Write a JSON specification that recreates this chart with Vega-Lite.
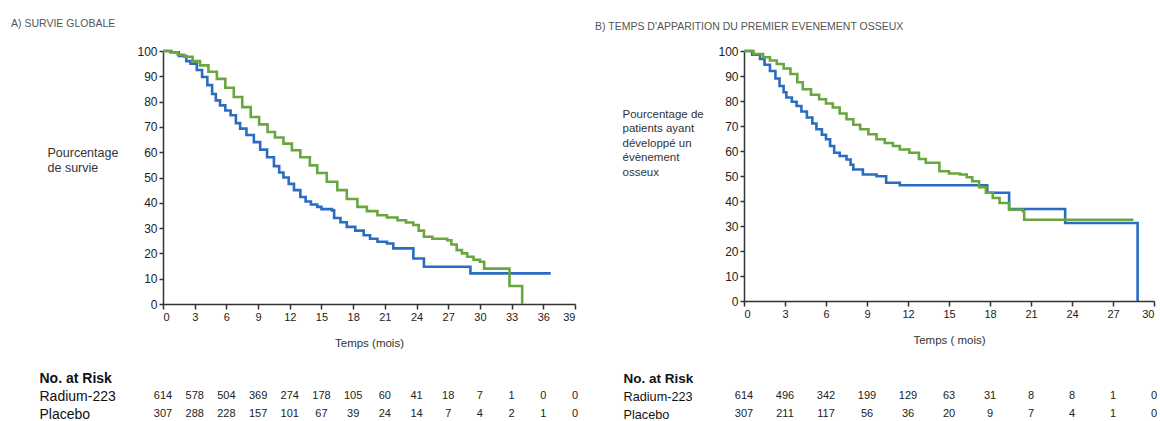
{
  "$schema": "https://vega.github.io/schema/vega-lite/v6.json",
  "autosize": {"type": "none"},
  "padding": {"left": 163, "top": 51, "right": 1000, "bottom": 380},
  "background": "white",
  "config": {
    "view": {"stroke": null},
    "font": "Liberation Sans",
    "axis": {"grid": false, "domainColor": "#333", "tickColor": "#333", "labelColor": "#222", "titleColor": "#333", "labelFont": "Liberation Sans", "titleFont": "Liberation Sans", "titleFontWeight": "normal"}
  },
  "datasets": {
    "kmA": [
      {"arm": "Placebo", "t": 0, "s": 100}, {"arm": "Placebo", "t": 0.7, "s": 99.5}, {"arm": "Placebo", "t": 1.5, "s": 98}, {"arm": "Placebo", "t": 2.2, "s": 96}, {"arm": "Placebo", "t": 2.6, "s": 95}, {"arm": "Placebo", "t": 3.2, "s": 92.5}, {"arm": "Placebo", "t": 3.7, "s": 89.7}, {"arm": "Placebo", "t": 4.2, "s": 86.5}, {"arm": "Placebo", "t": 4.65, "s": 83}, {"arm": "Placebo", "t": 5.0, "s": 80.5}, {"arm": "Placebo", "t": 5.4, "s": 78.5}, {"arm": "Placebo", "t": 5.9, "s": 76.5}, {"arm": "Placebo", "t": 6.4, "s": 74.6}, {"arm": "Placebo", "t": 6.9, "s": 71.5}, {"arm": "Placebo", "t": 7.3, "s": 69.3}, {"arm": "Placebo", "t": 7.9, "s": 66.8}, {"arm": "Placebo", "t": 8.6, "s": 64}, {"arm": "Placebo", "t": 9.2, "s": 61}, {"arm": "Placebo", "t": 9.85, "s": 58}, {"arm": "Placebo", "t": 10.5, "s": 54.5}, {"arm": "Placebo", "t": 11.0, "s": 52}, {"arm": "Placebo", "t": 11.4, "s": 50}, {"arm": "Placebo", "t": 11.9, "s": 47.5}, {"arm": "Placebo", "t": 12.4, "s": 45}, {"arm": "Placebo", "t": 13.0, "s": 42.3}, {"arm": "Placebo", "t": 13.5, "s": 40.5}, {"arm": "Placebo", "t": 14.0, "s": 39.3}, {"arm": "Placebo", "t": 14.6, "s": 38.4}, {"arm": "Placebo", "t": 15.0, "s": 37.5}, {"arm": "Placebo", "t": 16.0, "s": 37}, {"arm": "Placebo", "t": 16.2, "s": 34}, {"arm": "Placebo", "t": 16.8, "s": 32.3}, {"arm": "Placebo", "t": 17.4, "s": 30.5}, {"arm": "Placebo", "t": 18.2, "s": 29}, {"arm": "Placebo", "t": 19.0, "s": 27.2}, {"arm": "Placebo", "t": 19.6, "s": 25.8}, {"arm": "Placebo", "t": 20.3, "s": 24.6}, {"arm": "Placebo", "t": 21.2, "s": 23.9}, {"arm": "Placebo", "t": 21.8, "s": 22}, {"arm": "Placebo", "t": 23.7, "s": 18}, {"arm": "Placebo", "t": 24.7, "s": 14.7}, {"arm": "Placebo", "t": 29.1, "s": 12.1}, {"arm": "Placebo", "t": 36.7, "s": 12.1},
      {"arm": "Radium-223", "t": 0, "s": 100}, {"arm": "Radium-223", "t": 0.8, "s": 99.5}, {"arm": "Radium-223", "t": 1.4, "s": 98.5}, {"arm": "Radium-223", "t": 2.0, "s": 97.7}, {"arm": "Radium-223", "t": 2.8, "s": 96}, {"arm": "Radium-223", "t": 3.5, "s": 94.3}, {"arm": "Radium-223", "t": 4.3, "s": 91.8}, {"arm": "Radium-223", "t": 5.1, "s": 89}, {"arm": "Radium-223", "t": 5.9, "s": 85.5}, {"arm": "Radium-223", "t": 6.7, "s": 81.8}, {"arm": "Radium-223", "t": 7.5, "s": 77.8}, {"arm": "Radium-223", "t": 8.3, "s": 73.9}, {"arm": "Radium-223", "t": 9.1, "s": 71}, {"arm": "Radium-223", "t": 9.9, "s": 68}, {"arm": "Radium-223", "t": 10.6, "s": 65.8}, {"arm": "Radium-223", "t": 11.4, "s": 63.4}, {"arm": "Radium-223", "t": 12.2, "s": 60.8}, {"arm": "Radium-223", "t": 13.0, "s": 58}, {"arm": "Radium-223", "t": 13.9, "s": 54.8}, {"arm": "Radium-223", "t": 14.6, "s": 51.8}, {"arm": "Radium-223", "t": 15.5, "s": 48.3}, {"arm": "Radium-223", "t": 16.5, "s": 45}, {"arm": "Radium-223", "t": 17.4, "s": 41.5}, {"arm": "Radium-223", "t": 18.4, "s": 38.4}, {"arm": "Radium-223", "t": 19.3, "s": 36.7}, {"arm": "Radium-223", "t": 20.3, "s": 35.1}, {"arm": "Radium-223", "t": 21.2, "s": 34.2}, {"arm": "Radium-223", "t": 22.2, "s": 33.1}, {"arm": "Radium-223", "t": 23.0, "s": 32.2}, {"arm": "Radium-223", "t": 23.7, "s": 31.2}, {"arm": "Radium-223", "t": 24.2, "s": 29}, {"arm": "Radium-223", "t": 24.7, "s": 26.6}, {"arm": "Radium-223", "t": 25.5, "s": 25.8}, {"arm": "Radium-223", "t": 26.9, "s": 25.2}, {"arm": "Radium-223", "t": 27.3, "s": 23.5}, {"arm": "Radium-223", "t": 27.8, "s": 21.3}, {"arm": "Radium-223", "t": 28.3, "s": 20}, {"arm": "Radium-223", "t": 28.8, "s": 18.7}, {"arm": "Radium-223", "t": 29.4, "s": 17.5}, {"arm": "Radium-223", "t": 30.0, "s": 16.7}, {"arm": "Radium-223", "t": 30.4, "s": 14}, {"arm": "Radium-223", "t": 32.8, "s": 7.1}, {"arm": "Radium-223", "t": 34.0, "s": 0}
    ],
    "kmB": [
      {"arm": "Placebo", "t": 0, "s": 100}, {"arm": "Placebo", "t": 0.6, "s": 98.5}, {"arm": "Placebo", "t": 1.17, "s": 96.8}, {"arm": "Placebo", "t": 1.5, "s": 94.5}, {"arm": "Placebo", "t": 1.9, "s": 92}, {"arm": "Placebo", "t": 2.3, "s": 89}, {"arm": "Placebo", "t": 2.6, "s": 86}, {"arm": "Placebo", "t": 2.9, "s": 83.5}, {"arm": "Placebo", "t": 3.1, "s": 81.4}, {"arm": "Placebo", "t": 3.5, "s": 79.7}, {"arm": "Placebo", "t": 3.85, "s": 78}, {"arm": "Placebo", "t": 4.2, "s": 75.8}, {"arm": "Placebo", "t": 4.6, "s": 73.4}, {"arm": "Placebo", "t": 5.0, "s": 71}, {"arm": "Placebo", "t": 5.3, "s": 68.7}, {"arm": "Placebo", "t": 5.7, "s": 66.5}, {"arm": "Placebo", "t": 6.0, "s": 64.7}, {"arm": "Placebo", "t": 6.3, "s": 62}, {"arm": "Placebo", "t": 6.6, "s": 59.3}, {"arm": "Placebo", "t": 7.0, "s": 58}, {"arm": "Placebo", "t": 7.5, "s": 56.6}, {"arm": "Placebo", "t": 7.8, "s": 54.5}, {"arm": "Placebo", "t": 8.0, "s": 52.6}, {"arm": "Placebo", "t": 8.7, "s": 50.6}, {"arm": "Placebo", "t": 9.7, "s": 49.9}, {"arm": "Placebo", "t": 10.4, "s": 47.3}, {"arm": "Placebo", "t": 11.4, "s": 46.3}, {"arm": "Placebo", "t": 17.8, "s": 43.3}, {"arm": "Placebo", "t": 19.4, "s": 36.8}, {"arm": "Placebo", "t": 23.5, "s": 31.2}, {"arm": "Placebo", "t": 28.8, "s": 0},
      {"arm": "Radium-223", "t": 0, "s": 100}, {"arm": "Radium-223", "t": 0.7, "s": 98.8}, {"arm": "Radium-223", "t": 1.4, "s": 97.5}, {"arm": "Radium-223", "t": 1.9, "s": 96.2}, {"arm": "Radium-223", "t": 2.4, "s": 94.8}, {"arm": "Radium-223", "t": 2.9, "s": 93}, {"arm": "Radium-223", "t": 3.4, "s": 90.8}, {"arm": "Radium-223", "t": 3.9, "s": 87.5}, {"arm": "Radium-223", "t": 4.3, "s": 84.7}, {"arm": "Radium-223", "t": 4.9, "s": 82.5}, {"arm": "Radium-223", "t": 5.5, "s": 80.7}, {"arm": "Radium-223", "t": 6.0, "s": 79}, {"arm": "Radium-223", "t": 6.5, "s": 77.4}, {"arm": "Radium-223", "t": 7.0, "s": 75}, {"arm": "Radium-223", "t": 7.5, "s": 72.7}, {"arm": "Radium-223", "t": 8.0, "s": 70.5}, {"arm": "Radium-223", "t": 8.5, "s": 68.7}, {"arm": "Radium-223", "t": 9.1, "s": 66.7}, {"arm": "Radium-223", "t": 9.7, "s": 64.7}, {"arm": "Radium-223", "t": 10.3, "s": 63.2}, {"arm": "Radium-223", "t": 10.9, "s": 62}, {"arm": "Radium-223", "t": 11.4, "s": 60.6}, {"arm": "Radium-223", "t": 12.1, "s": 59.3}, {"arm": "Radium-223", "t": 12.8, "s": 56.8}, {"arm": "Radium-223", "t": 13.3, "s": 55.3}, {"arm": "Radium-223", "t": 14.3, "s": 51.9}, {"arm": "Radium-223", "t": 15.0, "s": 51}, {"arm": "Radium-223", "t": 15.8, "s": 50.6}, {"arm": "Radium-223", "t": 16.3, "s": 49.5}, {"arm": "Radium-223", "t": 16.7, "s": 47.9}, {"arm": "Radium-223", "t": 17.2, "s": 45.5}, {"arm": "Radium-223", "t": 17.7, "s": 43.3}, {"arm": "Radium-223", "t": 18.2, "s": 41.2}, {"arm": "Radium-223", "t": 18.7, "s": 39.2}, {"arm": "Radium-223", "t": 19.4, "s": 36.5}, {"arm": "Radium-223", "t": 20.4, "s": 35.9}, {"arm": "Radium-223", "t": 20.5, "s": 32.5}, {"arm": "Radium-223", "t": 28.5, "s": 32.5}
    ],
    "riskA": [
      {"row": "Radium-223", "t": 0, "n": 614}, {"row": "Radium-223", "t": 3, "n": 578}, {"row": "Radium-223", "t": 6, "n": 504}, {"row": "Radium-223", "t": 9, "n": 369}, {"row": "Radium-223", "t": 12, "n": 274}, {"row": "Radium-223", "t": 15, "n": 178}, {"row": "Radium-223", "t": 18, "n": 105}, {"row": "Radium-223", "t": 21, "n": 60}, {"row": "Radium-223", "t": 24, "n": 41}, {"row": "Radium-223", "t": 27, "n": 18}, {"row": "Radium-223", "t": 30, "n": 7}, {"row": "Radium-223", "t": 33, "n": 1}, {"row": "Radium-223", "t": 36, "n": 0}, {"row": "Radium-223", "t": 39, "n": 0},
      {"row": "Placebo", "t": 0, "n": 307}, {"row": "Placebo", "t": 3, "n": 288}, {"row": "Placebo", "t": 6, "n": 228}, {"row": "Placebo", "t": 9, "n": 157}, {"row": "Placebo", "t": 12, "n": 101}, {"row": "Placebo", "t": 15, "n": 67}, {"row": "Placebo", "t": 18, "n": 39}, {"row": "Placebo", "t": 21, "n": 24}, {"row": "Placebo", "t": 24, "n": 14}, {"row": "Placebo", "t": 27, "n": 7}, {"row": "Placebo", "t": 30, "n": 4}, {"row": "Placebo", "t": 33, "n": 2}, {"row": "Placebo", "t": 36, "n": 1}, {"row": "Placebo", "t": 39, "n": 0}
    ],
    "riskB": [
      {"row": "Radium-223", "t": 0, "n": 614}, {"row": "Radium-223", "t": 3, "n": 496}, {"row": "Radium-223", "t": 6, "n": 342}, {"row": "Radium-223", "t": 9, "n": 199}, {"row": "Radium-223", "t": 12, "n": 129}, {"row": "Radium-223", "t": 15, "n": 63}, {"row": "Radium-223", "t": 18, "n": 31}, {"row": "Radium-223", "t": 21, "n": 8}, {"row": "Radium-223", "t": 24, "n": 8}, {"row": "Radium-223", "t": 27, "n": 1}, {"row": "Radium-223", "t": 30, "n": 0},
      {"row": "Placebo", "t": 0, "n": 307}, {"row": "Placebo", "t": 3, "n": 211}, {"row": "Placebo", "t": 6, "n": 117}, {"row": "Placebo", "t": 9, "n": 56}, {"row": "Placebo", "t": 12, "n": 36}, {"row": "Placebo", "t": 15, "n": 20}, {"row": "Placebo", "t": 18, "n": 9}, {"row": "Placebo", "t": 21, "n": 7}, {"row": "Placebo", "t": 24, "n": 4}, {"row": "Placebo", "t": 27, "n": 1}, {"row": "Placebo", "t": 30, "n": 0}
    ]
  },
  "columns": 2,
  "bounds": "flush",
  "spacing": {"row": 65, "column": 169},
  "concat": [
    {
      "width": 412, "height": 253,
      "title": {"text": "A) SURVIE GLOBALE", "anchor": "start", "frame": "group", "dx": -152, "fontSize": 10.5, "fontWeight": "normal", "color": "#555", "baseline": "middle", "offset": 11},
      "data": {"name": "kmA"},
      "mark": {"type": "line", "interpolate": "step-after", "strokeWidth": 2.6},
      "encoding": {
        "x": {"field": "t", "type": "quantitative", "scale": {"domain": [0, 39], "nice": false}, "axis": {"values": [0, 3, 6, 9, 12, 15, 18, 21, 24, 27, 30, 33, 36, 39], "title": "Temps (mois)", "labelFontSize": 11, "titleFontSize": 11.5, "tickSize": 5, "labelPadding": 2, "titlePadding": 15, "domainWidth": 1.5, "tickWidth": 1.5}},
        "y": {"field": "s", "type": "quantitative", "scale": {"domain": [0, 100], "nice": false}, "axis": {"values": [0, 10, 20, 30, 40, 50, 60, 70, 80, 90, 100], "title": ["Pourcentage", "de survie"], "titleAngle": 0, "titleAlign": "left", "titleBaseline": "middle", "titleX": -116, "titleY": 101, "titleLineHeight": 15, "titleFontSize": 12.5, "labelFontSize": 12, "tickSize": 4, "labelPadding": 2, "domainWidth": 1.5, "tickWidth": 1.5}},
        "color": {"field": "arm", "type": "nominal", "scale": {"domain": ["Placebo", "Radium-223"], "range": ["#2b6cc0", "#6aa640"]}, "legend": null}
      }
    },
    {
      "width": 410, "height": 250,
      "title": {"text": "B) TEMPS D'APPARITION DU PREMIER EVENEMENT OSSEUX", "anchor": "start", "frame": "group", "dx": -149, "fontSize": 10.5, "fontWeight": "normal", "color": "#555", "baseline": "middle", "offset": 8},
      "data": {"name": "kmB"},
      "mark": {"type": "line", "interpolate": "step-after", "strokeWidth": 2.6},
      "encoding": {
        "x": {"field": "t", "type": "quantitative", "scale": {"domain": [0, 30], "nice": false}, "axis": {"values": [0, 3, 6, 9, 12, 15, 18, 21, 24, 27, 30], "title": "Temps ( mois)", "labelFontSize": 11, "titleFontSize": 11.5, "tickSize": 5, "labelPadding": 2, "titlePadding": 15, "domainWidth": 1.5, "tickWidth": 1.5}},
        "y": {"field": "s", "type": "quantitative", "scale": {"domain": [0, 100], "nice": false}, "axis": {"values": [0, 10, 20, 30, 40, 50, 60, 70, 80, 90, 100], "title": ["Pourcentage de", "patients ayant", "développé un", "évènement", "osseux"], "titleAngle": 0, "titleAlign": "left", "titleBaseline": "middle", "titleX": -122, "titleY": 63, "titleLineHeight": 14.5, "titleFontSize": 11.5, "labelFontSize": 12, "tickSize": 4, "labelPadding": 2, "domainWidth": 1.5, "tickWidth": 1.5}},
        "color": {"field": "arm", "type": "nominal", "scale": {"domain": ["Placebo", "Radium-223"], "range": ["#2b6cc0", "#6aa640"]}, "legend": null}
      }
    },
    {
      "width": 412, "height": 54,
      "data": {"name": "riskA"},
      "mark": {"type": "text", "fontSize": 11, "color": "#222"},
      "encoding": {
        "x": {"field": "t", "type": "quantitative", "scale": {"domain": [0, 39], "nice": false}, "axis": null},
        "y": {"field": "row", "type": "ordinal", "scale": {"type": "point", "padding": 0.5, "domain": ["No. at Risk", "Radium-223", "Placebo"]}, "axis": {"title": null, "domain": false, "ticks": false, "tickSize": 0, "labelAlign": "left", "labelPadding": 124, "labelColor": "#111", "labelLimit": 200, "labelFontSize": {"condition": {"test": "datum.value === 'No. at Risk'", "value": 14}, "value": 14}, "labelFontWeight": {"condition": {"test": "datum.value === 'No. at Risk'", "value": "bold"}, "value": "normal"}}},
        "text": {"field": "n", "type": "quantitative"}
      }
    },
    {
      "width": 410, "height": 54,
      "data": {"name": "riskB"},
      "mark": {"type": "text", "fontSize": 11, "color": "#222"},
      "encoding": {
        "x": {"field": "t", "type": "quantitative", "scale": {"domain": [0, 30], "nice": false}, "axis": null},
        "y": {"field": "row", "type": "ordinal", "scale": {"type": "point", "padding": 0.5, "domain": ["No. at Risk", "Radium-223", "Placebo"]}, "axis": {"title": null, "domain": false, "ticks": false, "tickSize": 0, "labelAlign": "left", "labelPadding": 121, "labelColor": "#111", "labelLimit": 200, "labelFontSize": {"condition": {"test": "datum.value === 'No. at Risk'", "value": 13.5}, "value": 12.7}, "labelFontWeight": {"condition": {"test": "datum.value === 'No. at Risk'", "value": "bold"}, "value": "normal"}}},
        "text": {"field": "n", "type": "quantitative"}
      }
    }
  ]
}
